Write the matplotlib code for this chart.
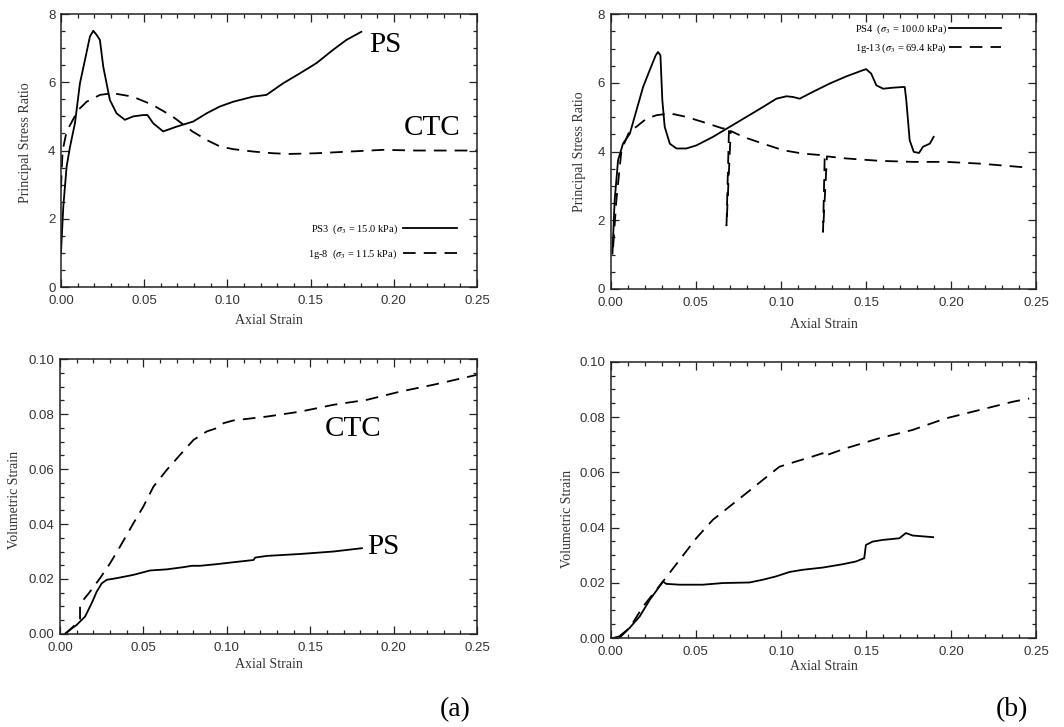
import matplotlib
matplotlib.use('Agg')
import matplotlib.pyplot as plt
from matplotlib.ticker import MultipleLocator, FormatStrFormatter

plt.rcParams['font.family'] = ['Liberation Serif', 'DejaVu Serif']
plt.rcParams['mathtext.fontset'] = 'stix'

# ---- (a) top: principal stress ratio vs axial strain
ps3_x = [0.0, 0.0014, 0.0034, 0.0054, 0.0084, 0.0114, 0.0144, 0.0174, 0.0194, 0.0214,
         0.0234, 0.0254, 0.0274, 0.0294, 0.0334, 0.0384, 0.0434, 0.0494, 0.052, 0.0554,
         0.0614, 0.0695, 0.0795, 0.0875, 0.0955, 0.1035, 0.1155, 0.1235, 0.1335, 0.1435,
         0.1535, 0.1635, 0.1715, 0.1805]
ps3_y = [1.0, 2.36, 3.53, 4.1, 4.8, 5.97, 6.65, 7.34, 7.51, 7.39,
         7.24, 6.46, 5.97, 5.48, 5.09, 4.9, 5.0, 5.04, 5.04, 4.8,
         4.56, 4.7, 4.85, 5.09, 5.29, 5.43, 5.58, 5.63, 5.97, 6.26,
         6.56, 6.95, 7.24, 7.48]
ig8_x = [0.0, 0.001, 0.0034, 0.0104, 0.0154, 0.0234, 0.031, 0.043, 0.055, 0.067,
         0.079, 0.0875, 0.0955, 0.1035, 0.1155, 0.1275, 0.1375, 0.1535, 0.1735, 0.1935,
         0.2135, 0.25]
ig8_y = [2.9, 4.0, 4.56, 5.19, 5.43, 5.63, 5.68, 5.58, 5.34, 5.0,
         4.56, 4.31, 4.12, 4.04, 3.97, 3.92, 3.9, 3.92, 3.97, 4.02,
         4.0, 4.0]

# ---- (b) top
ps4_x = [0.001, 0.0023, 0.0043, 0.0072, 0.0112, 0.0151, 0.019, 0.0229, 0.0264, 0.0278,
         0.0292, 0.0303, 0.0317, 0.0347, 0.0386, 0.0444, 0.0503, 0.0601, 0.0699, 0.0797,
         0.0895, 0.0973, 0.1032, 0.107, 0.111, 0.1188, 0.1286, 0.1384, 0.1482, 0.150,
         0.153, 0.156, 0.160, 0.1658, 0.1717, 0.1727, 0.1736, 0.1756, 0.178, 0.1811,
         0.1834, 0.1874, 0.1897]
ps4_y = [1.03, 2.58, 3.75, 4.23, 4.52, 5.2, 5.88, 6.37, 6.8, 6.9,
         6.8, 5.5, 4.72, 4.23, 4.09, 4.09, 4.18, 4.43, 4.72, 5.01,
         5.3, 5.54, 5.61, 5.59, 5.54, 5.74, 5.98, 6.19, 6.37, 6.4,
         6.27, 5.93, 5.83, 5.86, 5.88, 5.88, 5.5, 4.33, 3.99, 3.96,
         4.14, 4.23, 4.43]
ig13_x = [0.0014, 0.0033, 0.0063, 0.0112, 0.015, 0.021, 0.027, 0.035, 0.0444, 0.0542,
          0.066, 0.0695, 0.068, 0.0705, 0.0777, 0.0895, 0.1012, 0.113, 0.1257, 0.1247,
          0.127, 0.1384, 0.158, 0.1776, 0.1971, 0.2167, 0.246]
ig13_y = [1.22, 2.58, 4.04, 4.62, 4.72, 4.96, 5.06, 5.11, 5.01, 4.86,
          4.67, 4.72, 1.85, 4.6, 4.43, 4.23, 4.04, 3.94, 3.89, 1.66,
          3.86, 3.8, 3.73, 3.7, 3.7, 3.65, 3.53]

# ---- (a) bottom: volumetric strain
vps_x = [0.003, 0.006, 0.01, 0.015, 0.019, 0.022, 0.025, 0.028, 0.034, 0.044,
         0.054, 0.064, 0.074, 0.079, 0.084, 0.094, 0.104, 0.116, 0.117, 0.124,
         0.144, 0.164, 0.181]
vps_y = [0.0, 0.0015, 0.0033, 0.0063, 0.0112, 0.0154, 0.0184, 0.0197, 0.0203, 0.0215,
         0.0231, 0.0235, 0.0243, 0.0248, 0.0248, 0.0254, 0.0261, 0.0269, 0.0278, 0.0284,
         0.0291, 0.030, 0.0312]
vctc_x = [0.003, 0.008, 0.012, 0.012, 0.014, 0.018, 0.024, 0.03, 0.036, 0.044,
          0.05, 0.056, 0.064, 0.072, 0.08, 0.088, 0.094, 0.098, 0.104, 0.124,
          0.144, 0.164, 0.184, 0.204, 0.224, 0.25]
vctc_y = [0.0, 0.0027, 0.0055, 0.0105, 0.0124, 0.0154, 0.0203, 0.0257, 0.0318, 0.0403,
          0.0464, 0.0536, 0.0597, 0.0652, 0.0706, 0.0737, 0.0749, 0.0767, 0.0777, 0.0791,
          0.0809, 0.0834, 0.0852, 0.0882, 0.0907, 0.0943]

# ---- (b) bottom
vps4_x = [0.0014, 0.005, 0.011, 0.017, 0.023, 0.0287, 0.0307, 0.0326, 0.0405, 0.0541,
          0.0659, 0.0815, 0.0893, 0.0971, 0.105, 0.1128, 0.1245, 0.1362, 0.144, 0.1489,
          0.1499, 0.1538, 0.1597, 0.1695, 0.1734, 0.1773, 0.1894]
vps4_y = [0.0, 0.0006, 0.0036, 0.0078, 0.0139, 0.0187, 0.0205, 0.0196, 0.0193, 0.0193,
          0.0199, 0.0201, 0.0211, 0.0223, 0.0239, 0.0247, 0.0255, 0.0267, 0.0277, 0.0289,
          0.0337, 0.0349, 0.0355, 0.0361, 0.038, 0.0371, 0.0365]
vig13_x = [0.005, 0.011, 0.019, 0.0307, 0.0405, 0.0502, 0.06, 0.0698, 0.0796, 0.0893,
           0.0991, 0.1089, 0.1186, 0.1245, 0.1245, 0.1382, 0.1577, 0.1772, 0.1968, 0.2164,
           0.236, 0.2458]
vig13_y = [0.0, 0.0036, 0.0114, 0.0205, 0.0283, 0.0361, 0.0428, 0.0476, 0.0524, 0.0572,
           0.062, 0.0639, 0.0657, 0.0669, 0.0657, 0.0687, 0.0723, 0.0753, 0.0795, 0.0825,
           0.0855, 0.0867]

DASH = (0, (7, 4.5))
LW = 1.3
tick_font = {'family': 'Liberation Sans', 'size': 9.5}

fig = plt.figure(figsize=(10.64, 7.27), dpi=100)


def style_axes(ax, ymax, ymajor, yminor, yfmt, xlab_y, ylab_x, ylab_y, ylabel):
    ax.set_xlim(0, 0.25)
    ax.set_ylim(0, ymax)
    ax.xaxis.set_major_locator(MultipleLocator(0.05))
    ax.xaxis.set_minor_locator(MultipleLocator(0.01))
    ax.yaxis.set_major_locator(MultipleLocator(ymajor))
    ax.yaxis.set_minor_locator(MultipleLocator(yminor))
    ax.xaxis.set_major_formatter(FormatStrFormatter('%.2f'))
    ax.yaxis.set_major_formatter(FormatStrFormatter(yfmt))
    ax.tick_params(which='both', direction='in', top=True, right=True, width=0.9, color='#222222')
    ax.tick_params(which='major', length=6)
    ax.tick_params(which='minor', length=3)
    ax.tick_params(axis='x', pad=6)
    ax.tick_params(axis='y', pad=4)
    for lab in ax.get_xticklabels() + ax.get_yticklabels():
        lab.set_fontfamily(tick_font['family'])
        lab.set_fontsize(tick_font['size'])
        lab.set_color('#333333')
    for sp in ax.spines.values():
        sp.set_linewidth(1.1)
        sp.set_color('#222222')
    ax.set_xlabel('Axial Strain', fontsize=10, color='#333333')
    ax.set_ylabel(ylabel, fontsize=10, color='#333333')
    ax.xaxis.set_label_coords(0.5, xlab_y)
    ax.yaxis.set_label_coords(ylab_x, ylab_y)


# top-left
ax1 = fig.add_axes([0.0573, 0.6052, 0.391, 0.3755])
ax1.plot(ps3_x, ps3_y, color='black', lw=LW, label=r'PS3  ($\sigma_3$ = 15.0 kPa)')
ax1.plot(ig8_x, ig8_y, color='black', lw=LW, linestyle=DASH, label=r'1g-8  ($\sigma_3$ = 11.5 kPa)')
style_axes(ax1, 8, 2, 0.5, '%d', -0.1, -0.07, 0.527, 'Principal Stress Ratio')
ax1.legend(loc='center right', bbox_to_anchor=(0.952, 0.165), frameon=False, markerfirst=False,
           fontsize=7.5, handlelength=5.2, handletextpad=0.5, labelspacing=1.1,
           borderpad=0, borderaxespad=0)
ax1.text(0.195, 7.1, 'PS', fontsize=21, ha='center', va='center')
ax1.text(0.223, 4.66, 'CTC', fontsize=21, ha='center', va='center')

# top-right
ax2 = fig.add_axes([0.574, 0.6025, 0.400, 0.378])
ax2.plot(ps4_x, ps4_y, color='black', lw=LW, label=r'PS4  ($\sigma_3$ = 100.0 kPa)')
ax2.plot(ig13_x, ig13_y, color='black', lw=LW, linestyle=DASH, label=r'1g-13 ($\sigma_3$ = 69.4 kPa)')
style_axes(ax2, 8, 2, 0.5, '%d', -0.105, -0.057, 0.50, 'Principal Stress Ratio')
ax2.legend(loc='center right', bbox_to_anchor=(0.918, 0.911), frameon=False, markerfirst=False,
           fontsize=7.5, handlelength=5.0, handletextpad=0.2, labelspacing=0.5,
           borderpad=0, borderaxespad=0)

# bottom-left
ax3 = fig.add_axes([0.0564, 0.128, 0.392, 0.378])
ax3.plot(vps_x, vps_y, color='black', lw=LW)
ax3.plot(vctc_x, vctc_y, color='black', lw=LW, linestyle=DASH)
style_axes(ax3, 0.1, 0.02, 0.005, '%.2f', -0.087, -0.093, 0.487, 'Volumetric Strain')
ax3.text(0.1757, 0.0745, 'CTC', fontsize=21, ha='center', va='center')
ax3.text(0.1937, 0.0316, 'PS', fontsize=21, ha='center', va='center')

# bottom-right
ax4 = fig.add_axes([0.574, 0.1224, 0.400, 0.380])
ax4.plot(vps4_x, vps4_y, color='black', lw=LW)
ax4.plot(vig13_x, vig13_y, color='black', lw=LW, linestyle=DASH)
style_axes(ax4, 0.1, 0.02, 0.005, '%.2f', -0.08, -0.087, 0.43, 'Volumetric Strain')

fig.text(455 / 1064, 1 - 710 / 727, '(a)', fontsize=20, ha='center', va='center')
fig.text(1012 / 1064, 1 - 710 / 727, '(b)', fontsize=20, ha='center', va='center')

fig.savefig('out.png', dpi=100)
